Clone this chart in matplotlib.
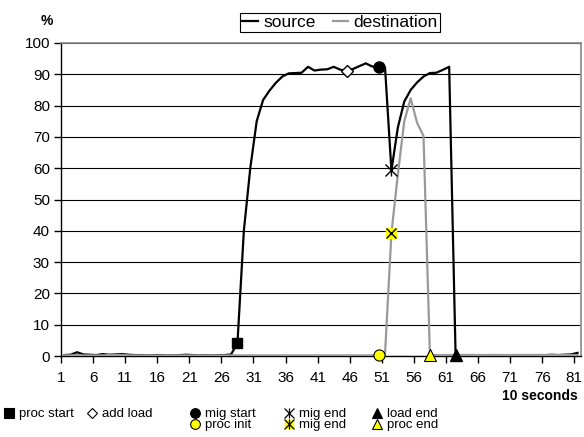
import matplotlib
matplotlib.use('Agg')
import matplotlib.pyplot as plt
from matplotlib.lines import Line2D

plt.rcParams['font.family'] = ['Liberation Sans', 'DejaVu Sans']

# intervalos de 10 segundos
intervalos = list(range(1, 82))

source = [0.3, 0.4, 1.2, 0.5, 0.4, 0.3, 0.6, 0.4, 0.5, 0.6,
          0.4, 0.3, 0.3, 0.2, 0.3, 0.3, 0.2, 0.2, 0.3, 0.4,
          0.3, 0.2, 0.3, 0.2, 0.3, 0.3, 0.5, 4.1, 40.0, 60.0,
          75.0, 81.8, 84.8, 87.3, 89.3, 90.3, 90.4, 90.5, 92.4, 91.2,
          91.5, 91.6, 92.4, 91.5, 91.1, 91.7, 92.6, 93.5, 92.5, 92.4,
          92.2, 59.3, 73.0, 81.3, 85.0, 87.4, 89.3, 90.4, 90.5, 91.4,
          92.4, 0.3, 0.3, 0.3, 0.3, 0.2, 0.3, 0.3, 0.3, 0.2,
          0.3, 0.3, 0.3, 0.3, 0.3, 0.3, 0.4, 0.3, 0.4, 0.5,
          1.0]

destination = [0.2, 0.2, 0.3, 0.2, 0.2, 0.2, 0.2, 0.3, 0.3, 0.3,
               0.2, 0.2, 0.2, 0.2, 0.2, 0.2, 0.2, 0.2, 0.2, 0.2,
               0.2, 0.2, 0.2, 0.2, 0.2, 0.2, 0.2, 0.2, 0.2, 0.2,
               0.2, 0.2, 0.2, 0.2, 0.2, 0.2, 0.2, 0.2, 0.2, 0.2,
               0.2, 0.2, 0.2, 0.2, 0.2, 0.2, 0.2, 0.2, 0.2, 0.3,
               0.5, 39.2, 58.0, 75.0, 82.3, 74.5, 70.3, 0.3, 0.3, 0.3,
               0.3, 0.3, 0.3, 0.3, 0.3, 0.3, 0.3, 0.3, 0.3, 0.3,
               0.3, 0.3, 0.3, 0.3, 0.3, 0.3, 0.3, 0.3, 0.3, 0.3,
               0.3]

# eventos (intervalo) em cada curva
procStart = 28
addLoad = 45
migStartSrc = 50
migEndSrc = 52
loadEnd = 62
procInit = 50
migEndDst = 52
procEnd = 58

rotulosX = [str(t) for t in range(1, 82, 5)]

CINZA = '#999999'
AMARELO = '#ffff00'

fig = plt.figure(figsize=(5.84, 4.37), dpi=100)
ax = fig.add_axes([61 / 584, 1 - 356 / 437, 519.7 / 584, 313 / 437])

ax.plot(intervalos, source, color='black', lw=1.6, zorder=3, label='source')
ax.plot(intervalos, destination, color=CINZA, lw=1.6, zorder=4, label='destination')

def marcar(serie, i, **kw):
    ax.plot([i], [serie[i - 1]], linestyle='none', zorder=5, clip_on=False, **kw)

marcar(source, procStart, marker='s', ms=7.5, color='black')
marcar(source, addLoad, marker='D', ms=6, mfc='white', mec='black', mew=1)
marcar(source, migStartSrc, marker='o', ms=8, color='black')
marcar(source, migEndSrc, marker='x', ms=8, mec='black', mew=1)
marcar(source, migEndSrc, marker='|', ms=8, mec='black', mew=1)
marcar(source, loadEnd, marker='^', ms=8, color='black')
marcar(destination, procInit, marker='o', ms=8, mfc=AMARELO, mec='black', mew=0.8)
marcar(destination, migEndDst, marker='s', ms=7, mfc=AMARELO, mec=AMARELO)
marcar(destination, migEndDst, marker='x', ms=7, mec='black', mew=1)
marcar(destination, procEnd, marker='^', ms=8, mfc=AMARELO, mec='black', mew=0.8)

ax.set_xlim(0.5, 81.5)
ax.set_ylim(0, 100)
ax.set_xticks([t - 0.5 for t in range(1, 82, 5)])
ax.set_xticklabels(rotulosX, fontsize=11)
ax.set_yticks(range(0, 101, 10))
ax.tick_params(axis='y', labelsize=11, length=5, width=1, direction='out', pad=3)
ax.tick_params(axis='x', length=5, width=1, direction='out', pad=6)
ax.yaxis.grid(True, color='black', lw=0.8, zorder=1)
ax.set_axisbelow(True)
for lado in ['left', 'bottom']:
    ax.spines[lado].set_color('black')
    ax.spines[lado].set_linewidth(1)
for lado in ['top', 'right']:
    ax.spines[lado].set_color('#888888')
    ax.spines[lado].set_linewidth(1.2)

fig.text(46.7 / 584, 1 - 20.7 / 437, '%', fontsize=10, fontweight='bold', ha='center', va='center')
fig.text(578 / 584, 1 - 396 / 437, '10 seconds', fontsize=10, fontweight='bold', ha='right', va='center')

leg = fig.legend(handles=ax.get_lines()[:2], loc='center', bbox_to_anchor=(340 / 584, 1 - 22.5 / 437),
                 ncol=2, fontsize=12.5, handlelength=0.9, handletextpad=0.3, columnspacing=1.0,
                 borderpad=0.1, fancybox=False, edgecolor='black', framealpha=1)
leg.get_frame().set_linewidth(0.8)

# legenda de eventos embaixo
def h(marker, ms, fc, ec='black'):
    return Line2D([], [], linestyle='none', marker=marker, ms=ms, mfc=fc, mec=ec, mew=0.8)

estrela = (Line2D([], [], linestyle='none', marker='x', ms=7, mec='black', mew=0.9),
           Line2D([], [], linestyle='none', marker='|', ms=7, mec='black', mew=0.9))
estrelaAm = (Line2D([], [], linestyle='none', marker='s', ms=6, mfc=AMARELO, mec=AMARELO),
             Line2D([], [], linestyle='none', marker='x', ms=7, mec='black', mew=0.9),
             Line2D([], [], linestyle='none', marker='|', ms=7, mec='black', mew=0.9))

colunas = [
    (10, [h('s', 7, 'black')], ['proc start']),
    (93, [h('D', 5.5, 'white')], ['add load']),
    (196, [h('o', 7, 'black'), h('o', 7, AMARELO)], ['mig start', 'proc init']),
    (290, [estrela, estrelaAm], ['mig end', 'mig end']),
    (378, [h('^', 7, 'black'), h('^', 7, AMARELO)], ['load end', 'proc end']),
]
for x, hs, labs in colunas:
    fig.legend(handles=hs, labels=labs, loc='upper left',
               bbox_to_anchor=((x - 6) / 584, 1 - 408 / 437),
               fontsize=9.5, handlelength=0.8, handletextpad=0.3, labelspacing=-0.1,
               borderpad=0, borderaxespad=0, frameon=False)

fig.savefig('out.png', dpi=100)
